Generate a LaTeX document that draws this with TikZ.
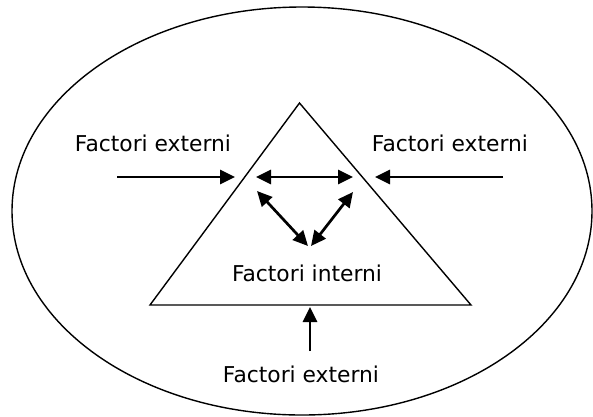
\documentclass[tikz,border=0pt]{standalone}
\usepackage{fontspec}
\setmainfont{DejaVu Sans}
\usetikzlibrary{arrows.meta}
\begin{document}
\begin{tikzpicture}[x=1pt,y=-1pt,
  lbl/.style={font=\fontsize{21.8}{26}\selectfont, inner sep=0pt},
  shapeline/.style={line width=1.4pt},
  arr/.style={line width=2.7pt, -{Triangle[length=15pt,width=14pt]}},
  darr/.style={line width=2.7pt, {Triangle[length=15pt,width=14pt]}-{Triangle[length=15pt,width=14pt]}}]
\useasboundingbox (0,0) rectangle (593,416);
% ellipse
\draw[shapeline] (302,211) ellipse [x radius=290, y radius=204];
% triangle
\coordinate (apex) at (299.5,103);
\coordinate (bl) at (150,305);
\coordinate (br) at (471,305);
\draw[shapeline, line join=miter] (apex) -- (bl) -- (br) -- cycle;
% labels
\node[lbl] (extL) at (153,143) {Factori externi};
\node[lbl] (extR) at (450,143) {Factori externi};
\node[lbl] (extB) at (301,374) {Factori externi};
\node[lbl] (int) at (307,273) {Factori interni};
% arrow end points
\coordinate (aLs) at (117,177);
\coordinate (aLe) at (235,177);
\coordinate (aRs) at (503,177);
\coordinate (aRe) at (375,177);
\coordinate (h1) at (256,177);
\coordinate (h2) at (353,177);
\coordinate (d1) at (257,191);
\coordinate (d2) at (353,192);
\coordinate (m1) at (308,246);
\coordinate (m2) at (311,246);
\coordinate (bS) at (310,351);
\coordinate (bE) at (310,307);
\draw[arr] (aLs) -- (aLe);
\draw[arr] (aRs) -- (aRe);
\draw[arr] (bS) -- (bE);
\draw[darr] (h1) -- (h2);
\draw[darr] (d1) -- (m1);
\draw[darr] (d2) -- (m2);
\end{tikzpicture}
\end{document}
